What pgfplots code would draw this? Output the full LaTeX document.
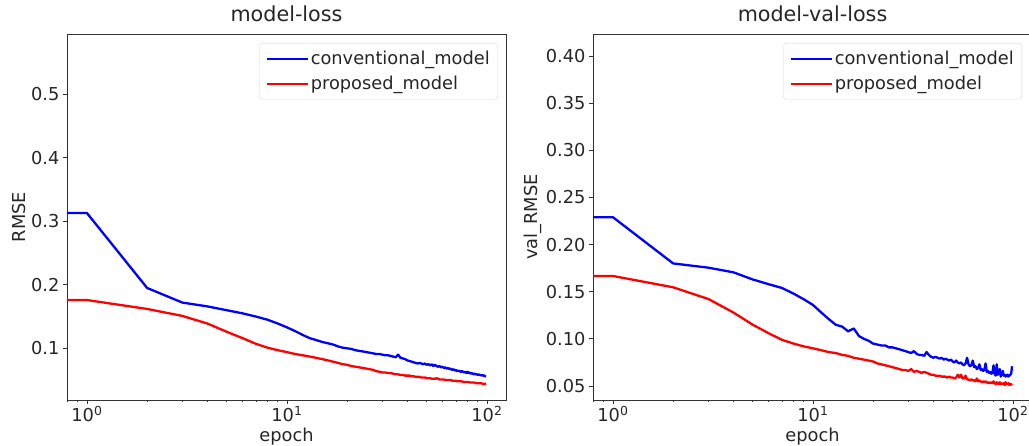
\documentclass[border=0pt]{standalone}
\usepackage{fontspec}
\setmainfont{DejaVu Sans}
\usepackage{pgfplots}
\pgfplotsset{compat=1.18}
\usepackage{pgfplotstable}

\pgfplotstableread{
e lc lp rc rp
0.5 0.313 0.176 0.229 0.1667
1 0.313 0.176 0.229 0.1667
2 0.195 0.162 0.180 0.1547
3 0.172 0.151 0.1755 0.1423
4 0.166 0.139 0.1706 0.128
5 0.160 0.126 0.163 0.115
6 0.155 0.116 0.158 0.106
7 0.150 0.107 0.154 0.099
8 0.145 0.101 0.148 0.095
9 0.139 0.097 0.142 0.092
10 0.133 0.094 0.136 0.090
11 0.127 0.091 0.128 0.088
12 0.121 0.089 0.121 0.086
13 0.116 0.087 0.115 0.085
14 0.113 0.085 0.113 0.083
15 0.110 0.083 0.108 0.082
16 0.108 0.081 0.111 0.080
17 0.106 0.079 0.103 0.079
18 0.103 0.077 0.100 0.078
19 0.101 0.075 0.098 0.077
20 0.100 0.074 0.095 0.076
21 0.099 0.072 0.094 0.074
22 0.097 0.071 0.093 0.073
23 0.096 0.070 0.093 0.072
24 0.095 0.069 0.091 0.071
25 0.094 0.068 0.091 0.070
26 0.093 0.067 0.090 0.069
27 0.092 0.066 0.089 0.068
28 0.091 0.064 0.088 0.067
29 0.091 0.063 0.087 0.067
30 0.090 0.062 0.086 0.066
31 0.089 0.062 0.085 0.068
32 0.089 0.061 0.087 0.065
33 0.088 0.061 0.084 0.066
34 0.087 0.060 0.083 0.065
35 0.086 0.059 0.083 0.064
36 0.090 0.059 0.082 0.065
37 0.085 0.058 0.086 0.064
38 0.084 0.058 0.083 0.063
39 0.083 0.057 0.081 0.062
40 0.081 0.057 0.080 0.062
41 0.080 0.057 0.081 0.061
42 0.079 0.056 0.080 0.061
43 0.078 0.056 0.079 0.061
44 0.077 0.055 0.080 0.060
45 0.076 0.055 0.078 0.060
46 0.077 0.055 0.079 0.060
47 0.076 0.054 0.078 0.059
48 0.075 0.054 0.077 0.060
49 0.076 0.054 0.078 0.059
50 0.074 0.053 0.076 0.059
51 0.075 0.053 0.075 0.058
52 0.073 0.053 0.077 0.059
53 0.075 0.052 0.075 0.062
54 0.072 0.052 0.074 0.059
55 0.074 0.052 0.075 0.062
56 0.072 0.053 0.073 0.058
57 0.071 0.052 0.072 0.058
58 0.072 0.051 0.074 0.061
59 0.070 0.051 0.080 0.057
60 0.071 0.051 0.073 0.057
61 0.069 0.051 0.071 0.056
62 0.070 0.050 0.072 0.057
63 0.068 0.050 0.077 0.056
64 0.069 0.050 0.070 0.056
65 0.067 0.050 0.071 0.055
66 0.068 0.050 0.068 0.058
67 0.066 0.049 0.069 0.055
68 0.067 0.049 0.073 0.056
69 0.065 0.049 0.067 0.055
70 0.066 0.049 0.068 0.054
71 0.064 0.048 0.066 0.055
72 0.065 0.048 0.067 0.054
73 0.064 0.048 0.074 0.055
74 0.063 0.048 0.065 0.054
75 0.064 0.048 0.066 0.053
76 0.063 0.047 0.064 0.054
77 0.062 0.047 0.065 0.053
78 0.063 0.047 0.063 0.054
79 0.061 0.047 0.064 0.053
80 0.063 0.047 0.072 0.055
81 0.061 0.047 0.063 0.053
82 0.062 0.046 0.061 0.052
83 0.060 0.046 0.073 0.054
84 0.061 0.046 0.062 0.053
85 0.060 0.046 0.063 0.052
86 0.059 0.046 0.068 0.054
87 0.060 0.046 0.060 0.052
88 0.059 0.045 0.063 0.053
89 0.059 0.045 0.066 0.052
90 0.058 0.045 0.061 0.053
91 0.059 0.045 0.062 0.051
92 0.058 0.045 0.060 0.054
93 0.058 0.045 0.061 0.052
94 0.057 0.045 0.062 0.052
95 0.058 0.044 0.060 0.053
96 0.057 0.044 0.061 0.051
97 0.057 0.044 0.062 0.052
98 0.056 0.044 0.063 0.052
99 0.056 0.044 0.071 0.051
}\losstable

\newcommand{\tfont}{\fontsize{17.8}{20}\selectfont}

\pgfplotsset{
    scale only axis, width=439pt, height=366pt,
    xmin=0.795, xmax=124.6,
    axis line style={black!80, line width=0.8pt},
    tick align=outside, tick pos=left,
    major tick length=4pt, minor tick length=2.3pt,
    every tick/.append style={black!80, line width=0.8pt},
    every minor tick/.append style={black!80, line width=0.6pt},
    xtick={1,10,100},
    xticklabels={10\textsuperscript{0},10\textsuperscript{1},10\textsuperscript{2}},
    minor xtick={0.8,0.9,2,3,4,5,6,7,8,9,20,30,40,50,60,70,80,90},
    ticklabel style={font=\tfont, text=black!85},
    xticklabel style={anchor=base, inner sep=0pt, yshift=-17.7pt},
    /pgf/number format/assume math mode=true,
    label style={font=\tfont, text=black!85},
    xlabel={epoch},
    xlabel style={at={(axis description cs:0.5,-0.1139)}, anchor=base, inner sep=0pt},
    title style={font=\fontsize{20.7}{24}\selectfont, text=black!85, at={(axis description cs:0.5,1.0164)}, anchor=base, inner sep=0pt},
    legend cell align=left,
    legend image code/.code={\draw[#1, line width=2.2pt] (0pt,0pt) -- (37pt,0pt); \path (0pt,0pt) -- (41pt,0pt);},
    legend style={font=\tfont, draw=black!15, rounded corners=3pt, fill=white,
      anchor=north east, inner xsep=6pt, inner ysep=6pt, row sep=6pt,
      text=black!85},
    every axis plot/.append style={line width=2.3pt, line join=round},
}

\begin{document}
\begin{tikzpicture}[x=1pt,y=1pt]
\path[use as bounding box] (0,0) rectangle (1029,446);
\begin{semilogxaxis}[at={(67pt,46pt)}, anchor=south west,
  ymin=0.0186, ymax=0.595,
  ytick={0.1,0.2,0.3,0.4,0.5},
  yticklabel style={/pgf/number format/.cd, fixed, precision=1, fixed zerofill},
  ylabel={RMSE},
  ylabel style={at={(axis description cs:-0.1096,0.5)}, anchor=center},
  title={model-loss},
  legend style={at={(axis description cs:0.9817,0.9754)}},
]
\addplot[blue] table[x=e, y=lc] {\losstable};
\addlegendentry{conventional\_model}
\addplot[red] table[x=e, y=lp] {\losstable};
\addlegendentry{proposed\_model}
\end{semilogxaxis}
\begin{semilogxaxis}[at={(593pt,46pt)}, anchor=south west,
  ymin=0.0352, ymax=0.4233,
  ytick={0.05,0.10,0.15,0.20,0.25,0.30,0.35,0.40},
  yticklabel style={/pgf/number format/.cd, fixed, precision=2, fixed zerofill},
  ylabel={val\_RMSE},
  ylabel style={at={(axis description cs:-0.1367,0.5)}, anchor=center},
  title={model-val-loss},
  legend style={at={(axis description cs:0.9772,0.9754)}},
]
\addplot[blue] table[x=e, y=rc] {\losstable};
\addlegendentry{conventional\_model}
\addplot[red] table[x=e, y=rp] {\losstable};
\addlegendentry{proposed\_model}
\end{semilogxaxis}
\end{tikzpicture}
\end{document}
